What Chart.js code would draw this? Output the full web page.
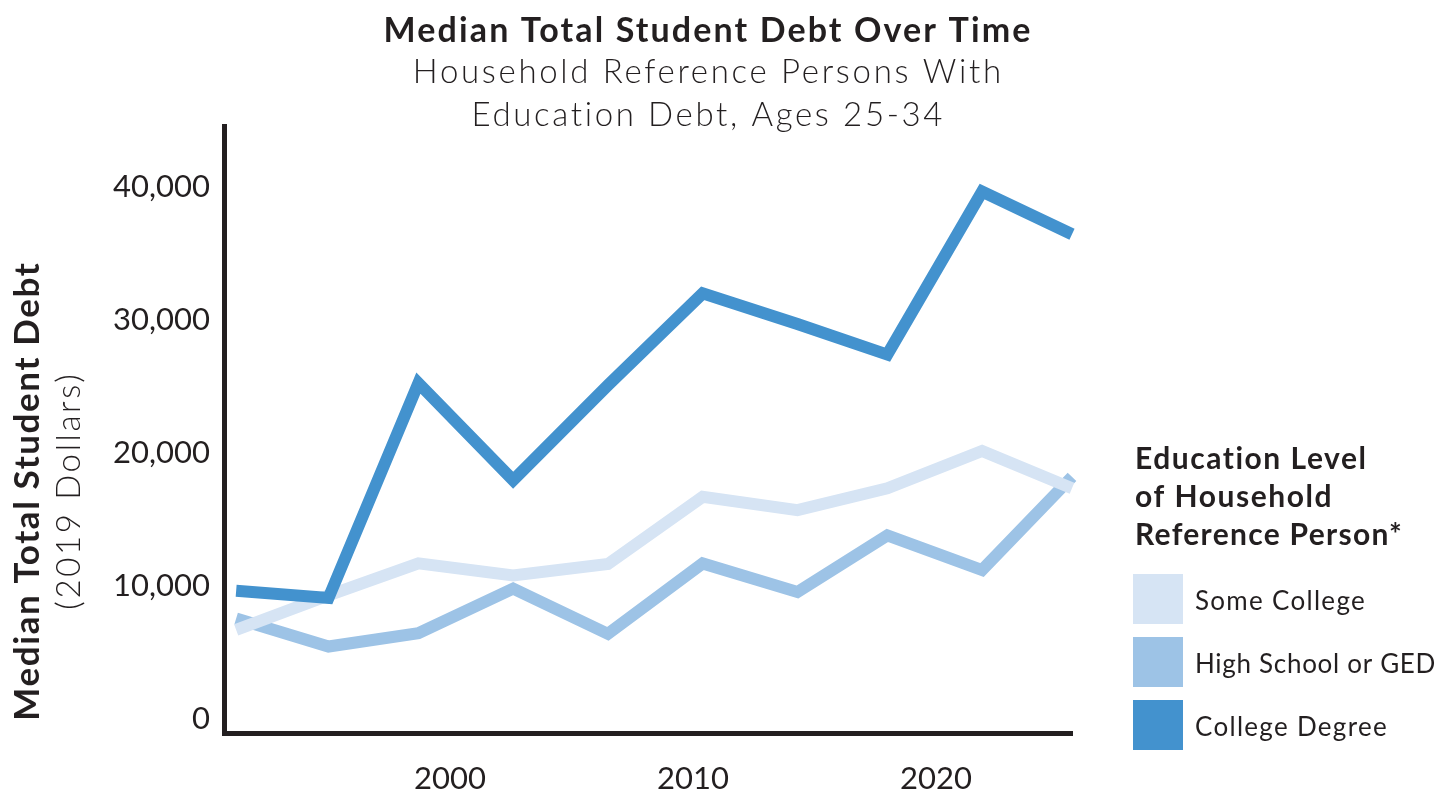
<!DOCTYPE html>
<html>
<head>
<meta charset="utf-8">
<script src="https://cdn.jsdelivr.net/npm/chart.js@4.4.1/dist/chart.umd.min.js"></script>
<style>
  html, body { margin: 0; padding: 0; background: #fff; }
</style>
</head>
<body>
<canvas id="debtChart" width="1454" height="793"></canvas>
<script>
// survey points, placed on the year axis
const years = [1991.2, 1995.0, 1998.7, 2002.6, 2006.5, 2010.4, 2014.3, 2018.0, 2021.9, 2025.6];
const someCollege = [6700, 9300, 11700, 10800, 11650, 16700, 15700, 17350, 20150, 17350];
const highSchool = [7550, 5450, 6450, 9800, 6400, 11700, 9550, 13800, 11200, 18200];
const collegeDegree = [9650, 9100, 25250, 17950, 25100, 32000, 29700, 27400, 39650, 36450];

const seriesNames = ['Some College', 'High School or GED', 'College Degree'];
const xTicks = [2000, 2010, 2020];
const yTicks = [0, 10000, 20000, 30000, 40000];

const titleText = 'Median Total Student Debt Over Time';
const subtitleLines = ['Household Reference Persons With', 'Education Debt, Ages 25-34'];
const yTitleLines = ['Median Total Student Debt', '(2019 Dollars)'];
const legendTitleLines = ['Education Level', 'of Household', 'Reference Person*'];

const INK = '#231f20';
const colors = ['#d6e4f4', '#9dc3e6', '#4392ce'];

function points(values) {
    return values.map((v, i) => ({ x: years[i], y: v }));
}

// Lato runs narrower than the original face, so open the tracking up to a given width
function spacedText(ctx, text, x, y, width) {
    ctx.letterSpacing = '0px';
    var natural = ctx.measureText(text).width;
    var sp = Math.max(0, (width - natural) / text.length);
    ctx.letterSpacing = sp.toFixed(2) + 'px';
    var shift = ctx.textAlign === 'center' ? sp / 2 : 0;
    ctx.fillText(text, x + shift, y);
    ctx.letterSpacing = '0px';
}

// titles, rotated axis title and the legend block
const textPlugin = {
    id: 'textBlocks',
    afterDraw(chart) {
        const ctx = chart.ctx;
        ctx.save();
        ctx.fillStyle = INK;
        ctx.textBaseline = 'alphabetic';

        ctx.textAlign = 'center';
        ctx.font = '700 34px Lato';
        spacedText(ctx, titleText, 707, 42, 649);
        ctx.font = '300 33px Lato';
        spacedText(ctx, subtitleLines[0], 707, 83, 591);
        spacedText(ctx, subtitleLines[1], 707, 126, 474);

        ctx.save();
        ctx.translate(0, 492);
        ctx.rotate(-Math.PI / 2);
        ctx.font = '700 35px Lato';
        spacedText(ctx, yTitleLines[0], 0, 39, 459);
        ctx.font = '300 33px Lato';
        spacedText(ctx, yTitleLines[1], 0, 80, 238);
        ctx.restore();

        ctx.textAlign = 'left';
        ctx.font = '700 30px Lato';
        var legendWidths = [233, 198, 268];
        legendTitleLines.forEach((t, i) => spacedText(ctx, t, 1135, 469 + i * 38, legendWidths[i]));

        ctx.font = '400 26px Lato';
        var labelWidths = [171, 241, 193];
        chart.data.datasets.forEach((ds, i) => {
            const top = 574 + i * 63;
            ctx.fillStyle = ds.borderColor;
            ctx.fillRect(1133, top, 50, 50);
            ctx.fillStyle = INK;
            spacedText(ctx, ds.label, 1195, top + 36, labelWidths[i]);
        });
        ctx.restore();
    }
};

function draw() {
    var ctx = document.getElementById('debtChart').getContext('2d');
    new Chart(ctx, {
        type: 'line',
        data: {
            datasets: [{
                label: seriesNames[0],
                data: points(someCollege),
                borderColor: colors[0],
                order: 1
            }, {
                label: seriesNames[1],
                data: points(highSchool),
                borderColor: colors[1],
                order: 2
            }, {
                label: seriesNames[2],
                data: points(collegeDegree),
                borderColor: colors[2],
                order: 0
            }]
        },
        options: {
            responsive: false,
            animation: false,
            events: [],
            layout: {
                padding: { left: 0, top: 126, right: 382, bottom: 0 }
            },
            elements: {
                line: {
                    borderWidth: 12,
                    tension: 0,
                    fill: false,
                    borderJoinStyle: 'miter',
                    borderCapStyle: 'butt'
                },
                point: { radius: 0, hoverRadius: 0 }
            },
            datasets: {
                line: { clip: false }
            },
            plugins: {
                legend: { display: false },
                title: { display: false },
                tooltip: { enabled: false }
            },
            scales: {
                x: {
                    type: 'linear',
                    min: 1990.7,
                    max: 2025.6,
                    grid: { display: false, drawTicks: false },
                    border: { display: true, color: INK, width: 5 },
                    afterBuildTicks: scale => { scale.ticks = xTicks.map(v => ({ value: v })); },
                    afterFit: scale => { scale.height = 60; },
                    ticks: {
                        color: INK,
                        padding: 27,
                        maxRotation: 0,
                        font: { family: 'Lato', size: 31, weight: '400' },
                        callback: v => String(v)
                    }
                },
                y: {
                    min: -1053,
                    max: 44586,
                    grid: { display: false, drawTicks: false },
                    border: { display: true, color: INK, width: 5 },
                    afterBuildTicks: scale => { scale.ticks = yTicks.map(v => ({ value: v })); },
                    afterFit: scale => { scale.width = 224; },
                    ticks: {
                        color: INK,
                        padding: 14,
                        font: { family: 'Lato', size: 31, weight: '400' },
                        callback: v => v.toLocaleString('en-US')
                    }
                }
            }
        },
        plugins: [textPlugin]
    });
}

Promise.all([
    document.fonts.load('700 34px Lato'),
    document.fonts.load('300 33px Lato'),
    document.fonts.load('400 31px Lato')
]).then(draw, draw);
</script>
</body>
</html>
